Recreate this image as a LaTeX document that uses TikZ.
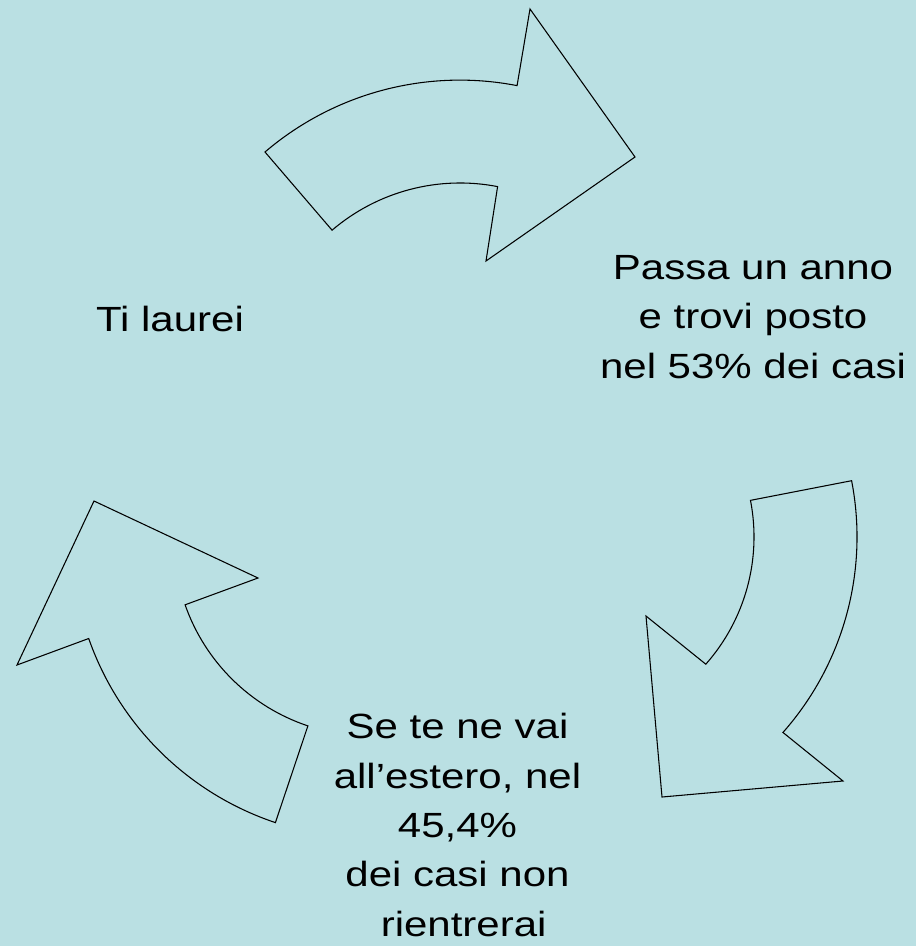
\documentclass[tikz,border=0pt]{standalone}
\usepackage{fontspec}
\setmainfont{Liberation Sans}[FakeStretch=1.2]
\definecolor{bgblue}{RGB}{186,224,227}
\begin{document}
\begin{tikzpicture}[x=0.75pt,y=-0.75pt,
  cyclearrow/.style={draw=black,line width=0.8pt,line join=miter},
  lbl/.style={font=\fontsize{26.25}{37}\selectfont,align=center,inner sep=0pt,text=black}]
\fill[bgblue] (0,0) rectangle (916,946);
\useasboundingbox (0,0) rectangle (916,946);
% top arrow
\draw[cyclearrow] (265,152) arc[start angle=-130.5,end angle=-79,radius=300]
  -- (530,9) -- (635,157) -- (486,261) -- (497.6,186.6)
  arc[start angle=-79,end angle=-130.5,radius=197] -- cycle;
% right arrow
\draw[cyclearrow] (851.6,480.7) arc[start angle=-11,end angle=41.5,radius=295]
  -- (843,781) -- (662,797) -- (646,616) -- (705.8,664.2)
  arc[start angle=41.5,end angle=-11,radius=192] -- cycle;
% left arrow
\draw[cyclearrow] (275.4,822.6) arc[start angle=108.5,end angle=160.7,radius=298]
  -- (17,665) -- (94,501) -- (258,578) -- (185.1,604.8)
  arc[start angle=160.7,end angle=108.5,radius=196] -- cycle;
% texts (base anchor = baseline of the last line)
\node[lbl,anchor=base] (laurea) at (170,331) {Ti laurei};
\node[lbl,anchor=base] (lavoro) at (753,378) {Passa un anno\\e trovi posto\\nel 53\% dei casi};
\node[lbl,anchor=base] (estero) at (457.5,936) {Se te ne vai\\all’estero, nel\\45,4\%\\dei casi non\\\hspace*{0.35em}rientrerai};
\end{tikzpicture}
\end{document}
